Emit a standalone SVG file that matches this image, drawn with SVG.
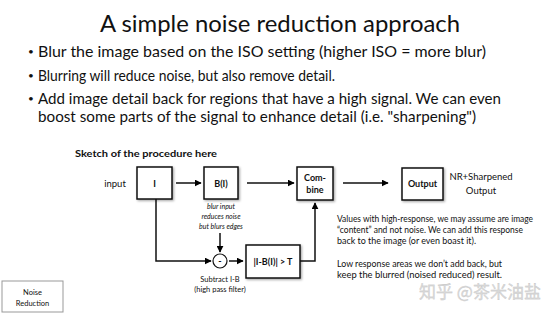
<svg xmlns="http://www.w3.org/2000/svg" width="556" height="313" viewBox="0 0 556 313">
<defs>
<marker id="ah" viewBox="0 0 10 10" refX="9" refY="5" markerWidth="7" markerHeight="7" markerUnits="userSpaceOnUse" orient="auto">
<path d="M0,0 L10,5 L0,10 z" fill="#000"/>
</marker>
<filter id="sh" x="-20%" y="-20%" width="150%" height="150%">
<feDropShadow dx="1.2" dy="1.2" stdDeviation="0.8" flood-color="#000" flood-opacity="0.35"/>
</filter>
</defs>
<style>
text{font-family:Lato,"Open Sans","Liberation Sans",sans-serif;fill:#111}
.title{font-size:23px}
.bul{font-size:15px}
.dot{font-size:10px}
.box{fill:#fff;stroke:#111;stroke-width:1.5;filter:url(#sh)}
.lbl{font-size:9px;font-weight:bold;text-anchor:middle}
.small{font-size:7px;font-style:italic;text-anchor:middle}
.note{font-size:8.5px}
.cap{font-size:7.5px;text-anchor:middle}
.con{fill:none;stroke:#111;stroke-width:1.5}
</style>
<rect width="556" height="313" fill="#fff"/>
<text class="title" x="280" y="32" text-anchor="middle" textLength="360" lengthAdjust="spacingAndGlyphs">A simple noise reduction approach</text>
<g>
<text x="28" y="55" class="dot">•</text>
<text x="38" y="57" class="bul" textLength="448" lengthAdjust="spacingAndGlyphs">Blur the image based on the ISO setting (higher ISO = more blur)</text>
<text x="28" y="79" class="dot">•</text>
<text x="38" y="81" class="bul" textLength="297" lengthAdjust="spacingAndGlyphs">Blurring will reduce noise, but also remove detail.</text>
<text x="28" y="102" class="dot">•</text>
<text x="38" y="104" class="bul" textLength="463" lengthAdjust="spacingAndGlyphs">Add image detail back for regions that have a high signal. We can even</text>
<text x="38" y="122" class="bul" textLength="438" lengthAdjust="spacingAndGlyphs">boost some parts of the signal to enhance detail (i.e. "sharpening")</text>
</g>
<text x="75" y="157" font-size="9.5" font-weight="bold" textLength="142" lengthAdjust="spacingAndGlyphs">Sketch of the procedure here</text>
<text x="115" y="187" font-size="9.5" text-anchor="middle">input</text>

<g id="connectors">
<line class="con" x1="176" y1="183" x2="201" y2="183" marker-end="url(#ah)"/>
<line class="con" x1="247" y1="183" x2="294" y2="183" marker-end="url(#ah)"/>
<line class="con" x1="343" y1="183" x2="388" y2="183" marker-end="url(#ah)"/>
<polyline class="con" points="156,199 156,261 211,261" marker-end="url(#ah)"/>
<line class="con" x1="220" y1="233" x2="220" y2="252" marker-end="url(#ah)"/>
<line class="con" x1="229" y1="261" x2="243" y2="261" marker-end="url(#ah)"/>
<polyline class="con" points="300,261 315,261 315,203" marker-end="url(#ah)"/>
</g>

<g id="node-I">
<rect class="box" x="137" y="167" width="35" height="32"/>
<text class="lbl" x="154.5" y="186.5">I</text>
</g>
<g id="node-B">
<rect class="box" x="204" y="167" width="34" height="32"/>
<text class="lbl" x="221" y="186.5">B(I)</text>
<text class="small" x="221" y="209">blur input</text>
<text class="small" x="221" y="219">reduces noise</text>
<text class="small" x="221" y="229">but blurs edges</text>
</g>
<g id="node-combine">
<rect class="box" x="297" y="167" width="36" height="33"/>
<text class="lbl" x="315" y="181">Com-</text>
<text class="lbl" x="315" y="193">bine</text>
</g>
<g id="node-output">
<rect class="box" x="402" y="168" width="41" height="32"/>
<text class="lbl" x="422.5" y="187">Output</text>
<text x="481" y="180" font-size="9.5" text-anchor="middle">NR+Sharpened</text>
<text x="481" y="194" font-size="9.5" text-anchor="middle">Output</text>
</g>
<g id="node-subtract">
<circle cx="220" cy="261" r="7" fill="#fff" stroke="#111" stroke-width="1.2"/>
<text x="220" y="264" font-size="9" font-weight="bold" text-anchor="middle">-</text>
<text class="cap" x="220" y="282">Subtract I-B</text>
<text class="cap" x="220" y="292">(high pass filter)</text>
</g>
<g id="node-threshold">
<rect class="box" x="246" y="245" width="54" height="33"/>
<text class="lbl" x="273" y="265">|I-B(I)| &gt; T</text>
</g>
<g id="note">
<text class="note" x="337" y="222" textLength="196" lengthAdjust="spacingAndGlyphs">Values with high-response, we may assume are image</text>
<text class="note" x="337" y="233" textLength="186" lengthAdjust="spacingAndGlyphs">“content” and not noise. We can add this response</text>
<text class="note" x="337" y="244" textLength="139" lengthAdjust="spacingAndGlyphs">back to the image (or even boast it).</text>
<text class="note" x="337" y="267" textLength="165" lengthAdjust="spacingAndGlyphs">Low response areas we don’t add back, but</text>
<text class="note" x="337" y="278" textLength="165" lengthAdjust="spacingAndGlyphs">keep the blurred (noised reduced) result.</text>
</g>
<g id="node-noise-reduction">
<rect x="2" y="281" width="61" height="31" fill="#fff" stroke="#999" stroke-width="1"/>
<text class="cap" x="32.5" y="295">Noise</text>
<text class="cap" x="32.5" y="306">Reduction</text>
</g>
<text x="480" y="298" font-size="17" text-anchor="middle" style="font-family:'Noto Sans CJK SC','Noto Sans',sans-serif;fill:#dadada;stroke:#c4c4c4;stroke-width:0.3">知乎 @茶米油盐</text>
</svg>
